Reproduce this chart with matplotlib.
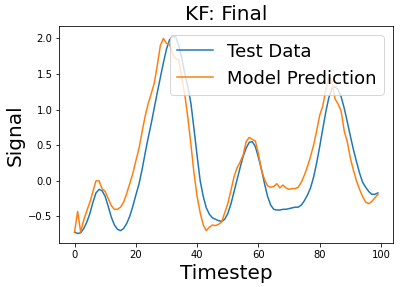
import matplotlib
matplotlib.use('Agg')
import matplotlib.pyplot as plt

# values
test_data = [
    -0.72, -0.74, -0.73, -0.67, -0.58, -0.46, -0.30, -0.17, -0.12, -0.14,
    -0.22, -0.36, -0.51, -0.62, -0.68, -0.70, -0.67, -0.60, -0.50, -0.36,
    -0.20, -0.05, 0.15, 0.38, 0.60, 0.80, 1.02, 1.24, 1.45, 1.66,
    1.85, 1.98, 2.03, 2.02, 1.90, 1.72, 1.50, 1.32, 1.08, 0.72,
    0.35, 0.00, -0.22, -0.38, -0.47, -0.52, -0.54, -0.56, -0.57, -0.54,
    -0.46, -0.33, -0.16, 0.01, 0.18, 0.34, 0.46, 0.54, 0.55, 0.48,
    0.33, 0.16, -0.04, -0.22, -0.34, -0.40, -0.41, -0.41, -0.40, -0.40,
    -0.39, -0.38, -0.37, -0.37, -0.34, -0.28, -0.20, -0.10, 0.05, 0.25,
    0.48, 0.73, 0.97, 1.17, 1.30, 1.32, 1.28, 1.18, 1.02, 0.83,
    0.63, 0.44, 0.27, 0.11, -0.02, -0.09, -0.15, -0.19, -0.19, -0.17,
]

model_prediction = [
    -0.72, -0.43, -0.72, -0.55, -0.42, -0.30, -0.15, 0.00, 0.00, -0.11,
    -0.15, -0.25, -0.35, -0.40, -0.40, -0.37, -0.30, -0.18, -0.04, 0.10,
    0.28, 0.45, 0.68, 0.90, 1.08, 1.22, 1.37, 1.62, 1.90, 2.00,
    1.93, 1.92, 1.78, 1.72, 1.70, 1.45, 1.20, 0.88, 0.50, 0.10,
    -0.22, -0.45, -0.62, -0.70, -0.65, -0.62, -0.63, -0.61, -0.58, -0.45,
    -0.32, -0.14, 0.05, 0.18, 0.26, 0.36, 0.55, 0.61, 0.58, 0.56,
    0.38, 0.15, 0.02, -0.07, -0.09, -0.08, -0.04, -0.10, -0.06, -0.10,
    -0.12, -0.11, -0.11, -0.09, -0.02, 0.08, 0.20, 0.34, 0.50, 0.70,
    0.92, 1.05, 1.28, 1.47, 1.40, 1.15, 1.08, 0.98, 0.70, 0.55,
    0.32, 0.15, 0.00, -0.12, -0.22, -0.30, -0.32, -0.29, -0.24, -0.19,
]

timesteps = list(range(len(test_data)))

fig = plt.figure(figsize=(404 / 72, 287 / 72), dpi=72)
ax = fig.add_axes([0.147, 0.152, 0.826, 0.756])

ax.plot(timesteps, test_data, label='Test Data')
ax.plot(timesteps, model_prediction, label='Model Prediction')

ax.set_title('KF: Final', fontsize=20)
ax.set_xlabel('Timestep', fontsize=20)
ax.set_ylabel('Signal', fontsize=20)
ax.tick_params(labelsize=10)
ax.legend(loc='upper right', fontsize=18)

fig.savefig('out.png', dpi=72)
